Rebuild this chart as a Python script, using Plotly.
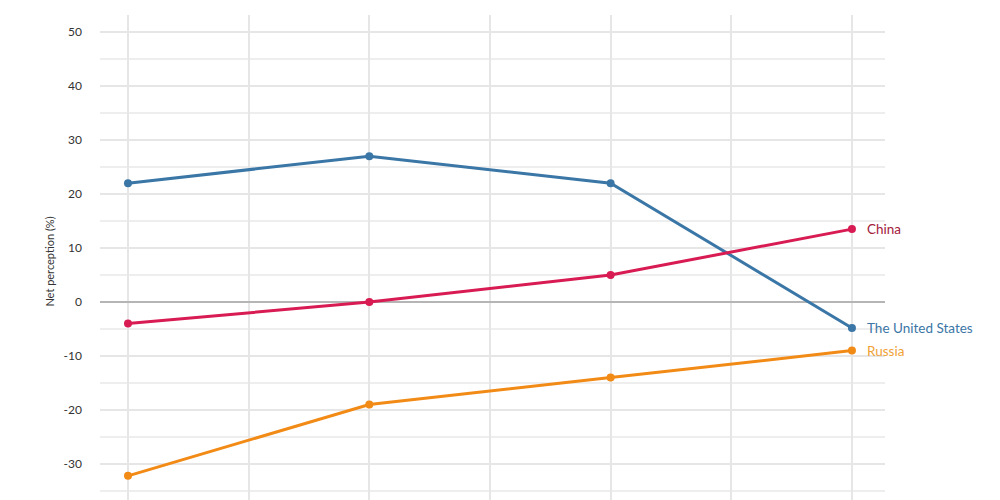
import plotly.graph_objects as go

x_pos = [0, 1, 2, 3]
us = [22, 27, 22, -4.8]
china = [-4, 0, 5, 13.5]
russia = [-32.2, -19, -14, -9]
series = [
    ("The United States", us, "#3a76a6", "#3a76a6"),
    ("China", china, "#d81b52", "#a3203a"),
    ("Russia", russia, "#f28a16", "#f0a235"),
]
y_ticks = [-30, -20, -10, 0, 10, 20, 30, 40, 50]

fig = go.Figure()
for name, vals, col, lcol in series:
    fig.add_trace(go.Scatter(x=x_pos, y=vals, mode="lines+markers", name=name,
                             line=dict(color=col, width=3),
                             marker=dict(color=col, size=8)))
    fig.add_annotation(x=x_pos[-1], y=vals[-1], text=name, showarrow=False,
                       xanchor="left", xshift=13, yshift=0,
                       font=dict(color=lcol, size=13.5, family="Lato"))

fig.update_layout(
    width=1000, height=500, showlegend=False,
    plot_bgcolor="white", paper_bgcolor="white",
    margin=dict(l=92, r=123, t=7, b=0),
    font=dict(family="Lato", color="#333333"),
    xaxis=dict(range=[-0.116, 3.137], dtick=0.5, tick0=0, showticklabels=False,
               showgrid=True, gridcolor="#e6e6e6", gridwidth=1.5, zeroline=False),
    yaxis=dict(range=[-38.15, 53.15], tickvals=y_ticks, ticktext=[str(v) for v in y_ticks],
               showgrid=True, gridcolor="#e6e6e6", gridwidth=1.5,
               minor=dict(dtick=5, showgrid=True, gridcolor="#eeeeee", gridwidth=1.5),
               zeroline=True, zerolinecolor="#b5b5b5", zerolinewidth=1.5,
               ticklabelstandoff=17, tickfont=dict(size=12, color="#333333"),
               title=dict(text="Net perception (%)", font=dict(size=11, color="#333333"), standoff=6)),
)
fig.write_html("out.html")
